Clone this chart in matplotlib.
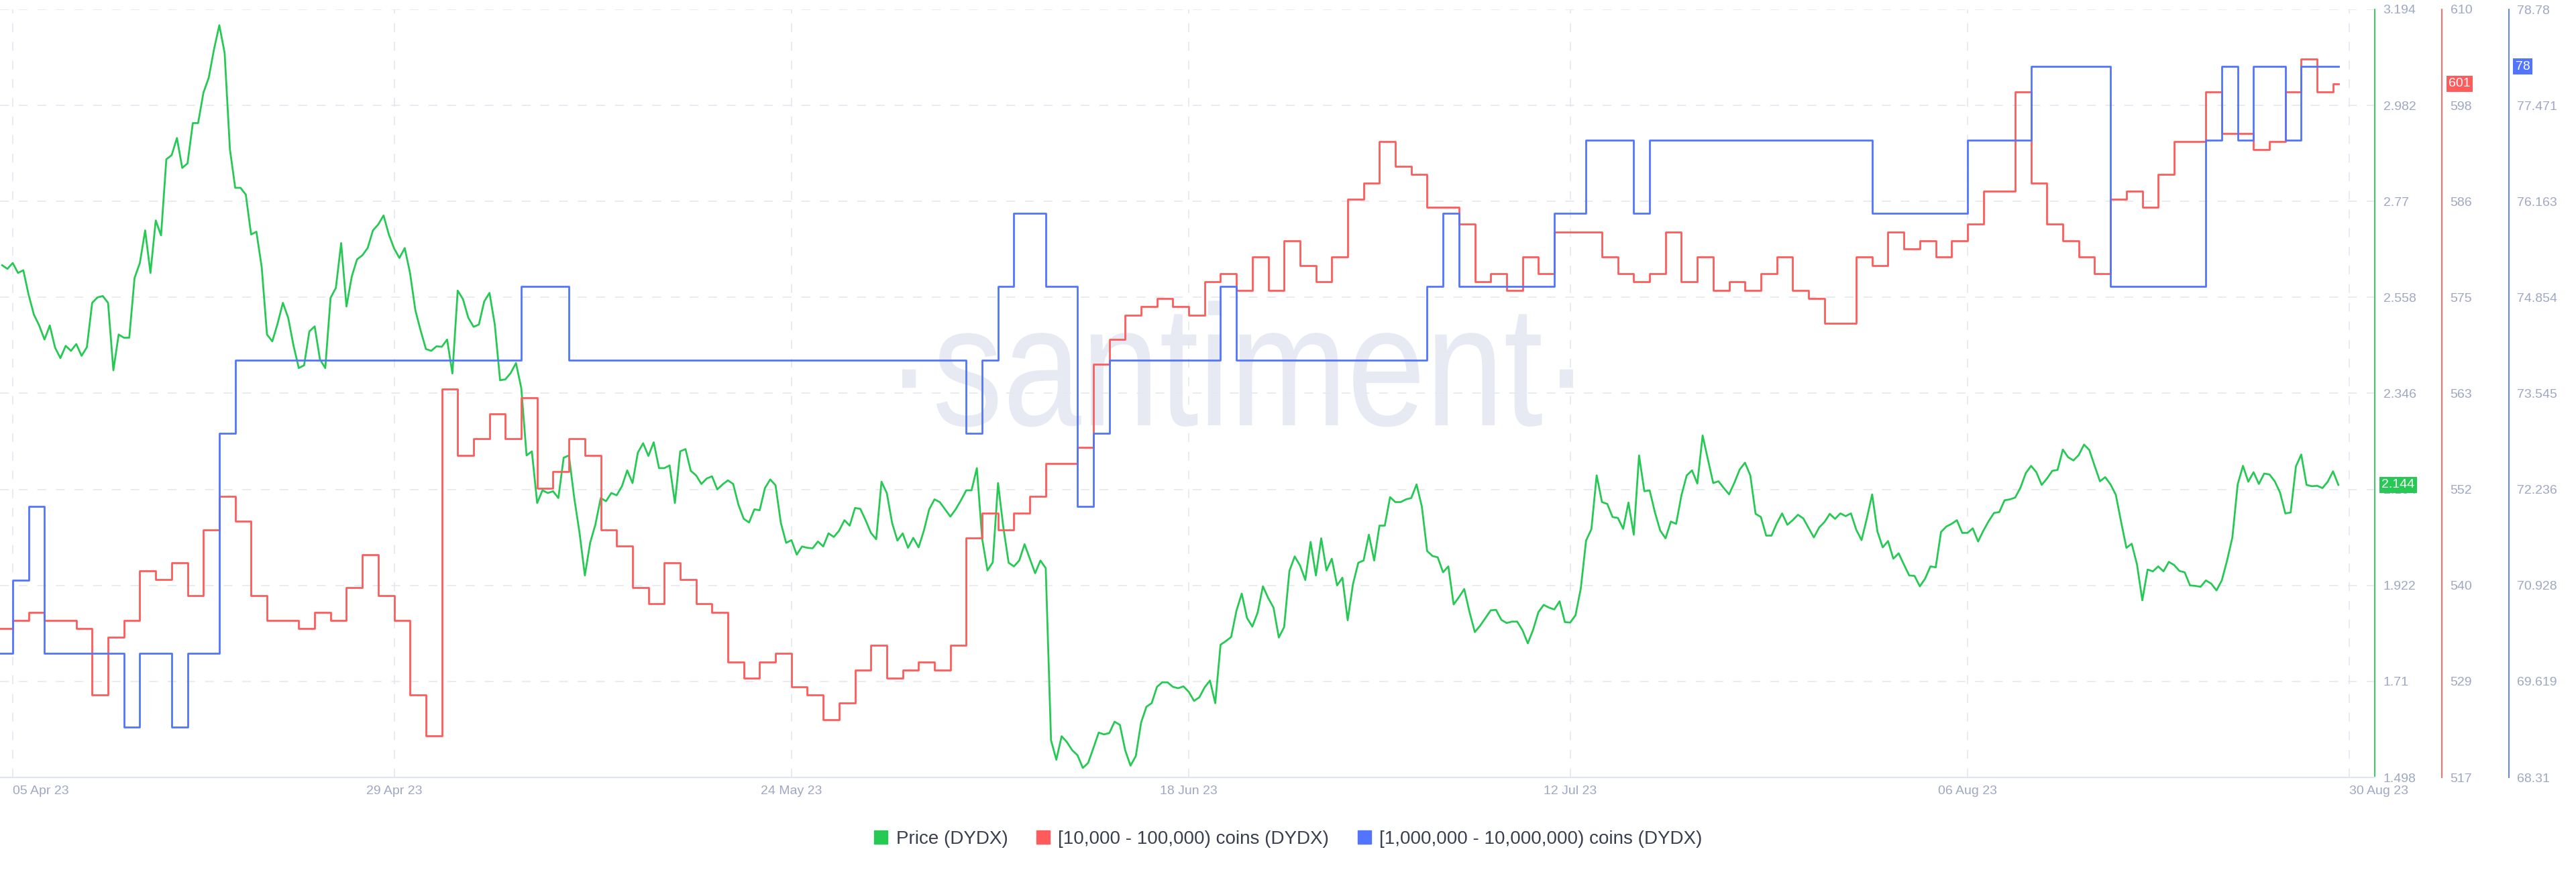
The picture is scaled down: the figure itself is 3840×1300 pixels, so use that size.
import numpy as np
import pandas as pd
import matplotlib
matplotlib.use("Agg")
import matplotlib.pyplot as plt
from matplotlib.lines import Line2D
from matplotlib.textpath import TextPath
from matplotlib.patches import PathPatch
from matplotlib.font_manager import FontProperties
from matplotlib.transforms import Affine2D
import matplotlib.dates as mdates

plt.rcParams['font.family'] = ['Liberation Sans', 'DejaVu Sans']
plt.rcParams['lines.scale_dashes'] = False

# DYDX price, one value every 8 hours from 04 Apr 08:00
price_start = "2023-04-04 08:00"
price = [
    2.629, 2.621, 2.634, 2.612, 2.618, 2.564, 2.520, 2.496, 2.465, 2.496,
    2.447, 2.424, 2.451, 2.440, 2.455, 2.429, 2.448, 2.546, 2.558, 2.561,
    2.546, 2.397, 2.476, 2.469, 2.469, 2.601, 2.634, 2.706, 2.612, 2.728,
    2.695, 2.863, 2.872, 2.910, 2.844, 2.854, 2.943, 2.943, 3.010, 3.043,
    3.106, 3.159, 3.098, 2.885, 2.800, 2.800, 2.785, 2.697, 2.703, 2.625,
    2.476, 2.461, 2.500, 2.546, 2.513, 2.452, 2.402, 2.408, 2.483, 2.494,
    2.421, 2.402, 2.557, 2.579, 2.678, 2.538, 2.604, 2.642, 2.651, 2.667,
    2.706, 2.719, 2.739, 2.697, 2.666,
    2.645, 2.667, 2.612, 2.530, 2.485, 2.444, 2.440, 2.450, 2.449, 2.465,
    2.390, 2.573, 2.554, 2.513, 2.493, 2.498, 2.549, 2.568, 2.498, 2.375,
    2.377, 2.391, 2.413, 2.358, 2.209, 2.218, 2.104, 2.132, 2.126, 2.130,
    2.115, 2.204, 2.209, 2.115, 2.038, 1.944, 2.016, 2.057, 2.115, 2.108,
    2.126, 2.121, 2.141, 2.176, 2.148, 2.215, 2.236, 2.208, 2.238, 2.181,
    2.181, 2.187, 2.104, 2.218, 2.223, 2.175, 2.165, 2.146, 2.158, 2.163,
    2.134, 2.145, 2.154, 2.146, 2.100, 2.069, 2.061, 2.090, 2.088, 2.137,
    2.156, 2.143, 2.060, 2.016, 2.022,
    1.990, 2.008, 2.005, 2.004, 2.019, 2.008, 2.037, 2.029, 2.043, 2.066,
    2.054, 2.093, 2.091, 2.066, 2.038, 2.024, 2.151, 2.126, 2.060, 2.021,
    2.037, 2.005, 2.027, 2.006, 2.043, 2.090, 2.112, 2.106, 2.090, 2.074,
    2.090, 2.110, 2.132, 2.132, 2.181, 2.025, 1.955, 1.973, 2.148, 2.050,
    1.972, 1.964, 1.977, 2.013, 1.981, 1.949, 1.977, 1.960, 1.580, 1.537,
    1.589, 1.576, 1.558, 1.547, 1.519, 1.530, 1.563, 1.597, 1.593, 1.596,
    1.621, 1.614, 1.558, 1.524, 1.545, 1.619, 1.654, 1.662, 1.698, 1.708,
    1.708, 1.698, 1.695, 1.699,
    1.687, 1.667, 1.675, 1.697, 1.712, 1.662, 1.791, 1.799, 1.808, 1.866,
    1.904, 1.850, 1.831, 1.862, 1.920, 1.894, 1.873, 1.807, 1.830, 1.954,
    1.986, 1.966, 1.934, 2.018, 1.944, 2.026, 1.955, 1.981, 1.922, 1.939,
    1.845, 1.925, 1.972, 1.977, 2.034, 1.977, 2.054, 2.054, 2.117, 2.106,
    2.106, 2.112, 2.115, 2.145, 2.096, 1.998, 1.987, 1.984, 1.951, 1.964,
    1.880, 1.896, 1.914, 1.863, 1.819, 1.833, 1.850, 1.867, 1.868, 1.846,
    1.839, 1.842, 1.842, 1.823, 1.794, 1.824, 1.863, 1.879, 1.873, 1.869,
    1.887, 1.841, 1.840, 1.856, 1.915,
    2.021, 2.046, 2.165, 2.106, 2.102, 2.073, 2.071, 2.047, 2.105, 2.034,
    2.209, 2.130, 2.132, 2.083, 2.043, 2.026, 2.063, 2.058, 2.121, 2.165,
    2.176, 2.147, 2.253, 2.200, 2.148, 2.152, 2.137, 2.123, 2.149, 2.178,
    2.193, 2.165, 2.080, 2.073, 2.032, 2.032, 2.059, 2.081, 2.056, 2.066,
    2.078, 2.070, 2.049, 2.028, 2.050, 2.062, 2.080, 2.069, 2.081, 2.075,
    2.081, 2.045, 2.022, 2.070, 2.123, 2.041, 2.006, 2.020, 1.981, 1.993,
    1.968, 1.944, 1.943, 1.920, 1.937, 1.964, 1.962, 2.040, 2.052, 2.058,
    2.066, 2.038, 2.038, 2.048, 2.019,
    2.043, 2.064, 2.082, 2.084, 2.110, 2.112, 2.116, 2.138, 2.170, 2.186,
    2.172, 2.144, 2.158, 2.175, 2.177, 2.222, 2.205, 2.198, 2.210, 2.233,
    2.221, 2.186, 2.152, 2.161, 2.145, 2.122, 2.062, 2.005, 2.014, 1.968,
    1.889, 1.957, 1.953, 1.964, 1.953, 1.974, 1.967, 1.954, 1.951, 1.922,
    1.921, 1.919, 1.933, 1.926, 1.911, 1.933, 1.977, 2.028, 2.145, 2.186,
    2.151, 2.172, 2.146, 2.169, 2.167, 2.152, 2.127, 2.081, 2.083, 2.185,
    2.211, 2.144, 2.141, 2.142, 2.137, 2.151, 2.174, 2.144,
]

# holder counts, one value per day from 04 Apr
holders_start = "2023-04-04"
holders_10k = [
    535, 536, 537, 536, 536, 535, 527, 534, 536, 542,
    541, 543, 539, 547, 551, 548, 539, 536, 536, 535,
    537, 536, 540, 544, 539, 536, 527, 522, 564, 556,
    558, 561, 558, 563, 552, 554, 558, 556, 547, 545,
    540, 538, 543, 541, 538, 537, 531, 529, 531, 532,
    528, 527, 524, 526, 530, 533, 529, 530, 531, 530,
    533, 546, 549, 547, 549, 551, 555, 555, 557, 567,
    570, 573, 574, 575, 574, 573, 577, 578, 576, 580,
    576, 582, 579, 577, 580, 587, 589, 594, 591, 590,
    586, 586, 584, 577, 578, 576, 580, 578, 583, 583,
    583, 580, 578, 577, 578, 583, 577, 580, 576, 577,
    576, 578, 580, 576, 575, 572, 572, 580, 579, 583,
    581, 582, 580, 582, 584, 588, 588, 600, 589, 584,
    582, 580, 578, 587, 588, 586, 590, 594, 594, 600,
    595, 595, 593, 594, 600, 604, 600, 601,
]
holders_1m = [
    70, 71, 72, 70, 70, 70, 70, 70, 69, 70,
    70, 69, 70, 70, 73, 74, 74, 74, 74, 74,
    74, 74, 74, 74, 74, 74, 74, 74, 74, 74,
    74, 74, 74, 75, 75, 75, 74, 74, 74, 74,
    74, 74, 74, 74, 74, 74, 74, 74, 74, 74,
    74, 74, 74, 74, 74, 74, 74, 74, 74, 74,
    74, 73, 74, 75, 76, 76, 75, 75, 72, 73,
    74, 74, 74, 74, 74, 74, 74, 75, 74, 74,
    74, 74, 74, 74, 74, 74, 74, 74, 74, 74,
    75, 76, 75, 75, 75, 75, 75, 75, 76, 76,
    77, 77, 77, 76, 77, 77, 77, 77, 77, 77,
    77, 77, 77, 77, 77, 77, 77, 77, 76, 76,
    76, 76, 76, 76, 77, 77, 77, 77, 78, 78,
    78, 78, 78, 75, 75, 75, 75, 75, 75, 77,
    78, 77, 78, 78, 77, 78, 78, 78,
]

date_ticks = ["2023-04-05", "2023-04-29", "2023-05-24", "2023-06-18",
              "2023-07-12", "2023-08-06", "2023-08-30"]
date_labels = ["05 Apr 23", "29 Apr 23", "24 May 23", "18 Jun 23",
               "12 Jul 23", "06 Aug 23", "30 Aug 23"]
price_labels = ["3.194", "2.982", "2.77", "2.558", "2.346", "2.134", "1.922", "1.71", "1.498"]
red_labels = ["610", "598", "586", "575", "563", "552", "540", "529", "517"]
blue_labels = ["78.78", "77.471", "76.163", "74.854", "73.545", "72.236", "70.928", "69.619", "68.31"]

GREEN = "#26c953"
RED = "#ff5b5b"
BLUE = "#5275ff"
GRID = "#e5e8f1"
TICK = "#9ea8c2"

t_price = pd.date_range(price_start, periods=len(price), freq="8h")
t_day = pd.date_range(holders_start, periods=len(holders_10k), freq="D")
# step lines are held until the last price stamp
t_step = t_day.append(pd.DatetimeIndex([t_price[-1]]))
red_vals = np.append(holders_10k, holders_10k[-1])
blue_vals = np.append(holders_1m, holders_1m[-1])

W, H = 3840, 1300
fig = plt.figure(figsize=(W / 100, H / 100), dpi=100)
ax = fig.add_axes([0, 141 / H, 3540 / W, 1145 / H])
ax2 = ax.twinx()
ax3 = ax.twinx()

# watermark, stretched to the size it has in the original
tp = TextPath((0, 0), "\u00b7santiment\u00b7", size=1, prop=FontProperties(family="Liberation Sans"))
ext = tp.get_extents()
wm = Affine2D().translate(-ext.x0, 0).scale(1000 / ext.width, 133 / 0.519).translate(1345, H - 634)
ax.add_artist(PathPatch(tp, transform=wm, fc="#e7eaf3", ec="none", zorder=0))

ax.plot(t_price, price, color=GREEN, lw=2.0, zorder=3)
ax2.plot(t_step, red_vals, color=RED, lw=2.0, drawstyle="steps-post")
ax3.plot(t_step, blue_vals, color=BLUE, lw=2.0, drawstyle="steps-post")

ax.set_xlim(mdates.date2num(pd.Timestamp("2023-04-04 04:48")),
            mdates.date2num(pd.Timestamp("2023-08-31 15:00")))
ax.set_ylim(1.498, 3.194)
ax2.set_ylim(517, 610)
ax3.set_ylim(68.31, 78.78)

for a, labels, lo, hi, color, xpos in [(ax, price_labels, 1.498, 3.194, GREEN, 1.0),
                                       (ax2, red_labels, 517, 610, RED, 3640 / 3540),
                                       (ax3, blue_labels, 68.31, 78.78, BLUE, 3740 / 3540)]:
    a.set_yticks(np.linspace(hi, lo, 9))
    a.set_yticklabels(labels)
    a.tick_params(axis="y", left=False, right=True, labelleft=False, labelright=True,
                  length=0, pad=9, labelsize=14, labelcolor=TICK)
    a.spines["right"].set_position(("axes", xpos))
    a.spines["right"].set_color(color)
    a.spines["right"].set_linewidth(1.3)
    a.spines["left"].set_visible(False)
    a.spines["top"].set_visible(False)
    if a is not ax:
        a.spines["bottom"].set_visible(False)

ax.spines["bottom"].set_color("#e1e5ef")
ax.spines["bottom"].set_linewidth(1.6)

ax.set_xticks([mdates.date2num(pd.Timestamp(d)) for d in date_ticks])
ax.set_xticklabels(date_labels)
xlabels = ax.get_xticklabels()
xlabels[0].set_ha("left")
xlabels[-1].set_ha("left")
ax.tick_params(axis="x", length=0, pad=9, labelsize=14, labelcolor=TICK)
ax.grid(True, color=GRID, lw=1.2, linestyle=(0, (9.5, 10.5)))
ax.set_axisbelow(True)

# last value badges
badge = dict(boxstyle="square,pad=0.18", ec="none")
ax.annotate(f"{price[-1]:.3f}", xy=(1.0, price[-1]), xycoords=("axes fraction", "data"),
            xytext=(10, 0), textcoords="offset pixels", ha="left", va="center",
            fontsize=14, color="white", bbox=dict(badge, fc=GREEN), annotation_clip=False, zorder=10)
ax2.annotate(f"{holders_10k[-1]}", xy=(3640 / 3540, holders_10k[-1]), xycoords=("axes fraction", "data"),
             xytext=(10, 0), textcoords="offset pixels", ha="left", va="center",
             fontsize=14, color="white", bbox=dict(badge, fc=RED), annotation_clip=False, zorder=10)
ax3.annotate(f"{holders_1m[-1]}", xy=(3740 / 3540, holders_1m[-1]), xycoords=("axes fraction", "data"),
             xytext=(10, 0), textcoords="offset pixels", ha="left", va="center",
             fontsize=14, color="white", bbox=dict(badge, fc=BLUE), annotation_clip=False, zorder=10)

handles = [Line2D([], [], marker="s", ls="none", ms=14, color=c) for c in (GREEN, RED, BLUE)]
names = ["Price (DYDX)", "[10,000 - 100,000) coins (DYDX)", "[1,000,000 - 10,000,000) coins (DYDX)"]
fig.legend(handles, names, loc="center", bbox_to_anchor=(0.5, 1 - 1251 / H), ncol=3,
           frameon=False, fontsize=20, handlelength=0.8, handletextpad=0.4,
           columnspacing=1.5, labelcolor="#3a3f4f")

fig.savefig("out.png", dpi=100, facecolor="white")
